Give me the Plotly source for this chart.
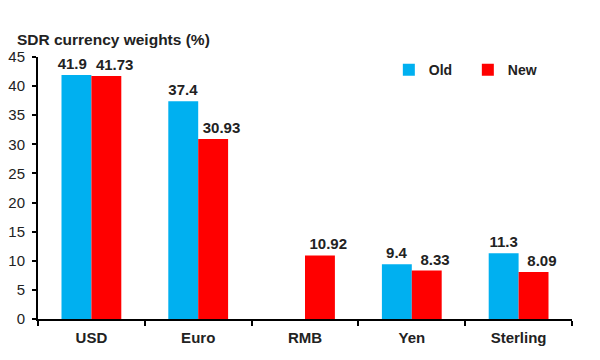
import plotly.graph_objects as go

categories = ["USD", "Euro", "RMB", "Yen", "Sterling"]
old_weights = [41.9, 37.4, None, 9.4, 11.3]
new_weights = [41.73, 30.93, 10.92, 8.33, 8.09]
old_labels = ["41.9", "37.4", "", "9.4", "11.3"]
new_labels = ["41.73", "30.93", "10.92", "8.33", "8.09"]
y_ticks = [0, 5, 10, 15, 20, 25, 30, 35, 40, 45]

font_family = "Liberation Sans, Arial, sans-serif"
txt = "#222222"
NB = "\u00a0"

# label placement like the original: new-weight labels nudged right, first old label nudged left
old_text = [f"<b>{t}</b>" + (NB * 2 if i == 0 else "") for i, t in enumerate(old_labels)]
new_text = [NB * 4 + f"<b>{t}</b>" for t in new_labels]

fig = go.Figure()
fig.add_trace(go.Bar(
    x=categories, y=old_weights, name="<b>Old</b>",
    marker=dict(color="#00B0F0", line=dict(width=0)),
    text=old_text, textposition="outside",
    textfont=dict(size=15, color=txt, family=font_family),
    constraintext="none", textangle=0, cliponaxis=False,
))
fig.add_trace(go.Bar(
    x=categories, y=new_weights, name="<b>New</b>",
    marker=dict(color="#FF0000", line=dict(width=0)),
    text=new_text, textposition="outside",
    textfont=dict(size=15, color=txt, family=font_family),
    constraintext="none", textangle=0, cliponaxis=False,
))

fig.update_layout(
    width=592, height=352,
    margin=dict(l=30, r=28, t=49, b=41),
    paper_bgcolor="white", plot_bgcolor="white",
    barmode="group", bargap=0.44, bargroupgap=0,
    font=dict(family=font_family, color=txt, size=14),
    showlegend=True,
    legend=dict(orientation="h", x=0.657, y=0.95, xanchor="left", yanchor="middle",
                font=dict(size=14, family=font_family, color=txt),
                entrywidth=34, entrywidthmode="pixels",
                bgcolor="rgba(0,0,0,0)", traceorder="normal"),
    title=dict(text="<b>SDR currency weights (%)</b>", x=0.015, xanchor="left",
               y=0.909, yanchor="middle", font=dict(size=15.5, family=font_family, color=txt)),
)
fig.update_xaxes(
    showline=True, linecolor="black", linewidth=2,
    ticks="outside", tickson="boundaries", ticklen=5, tickwidth=2, tickcolor="black",
    tickfont=dict(size=15, family=font_family, color=txt),
    tickprefix="<b>", ticksuffix="</b>", ticklabelstandoff=4,
    showgrid=False, zeroline=False, automargin=False,
)
fig.update_yaxes(
    range=[0, 45], tickvals=y_ticks,
    showline=True, linecolor="black", linewidth=2,
    ticks="outside", ticklen=4, tickwidth=2, tickcolor="black",
    tickfont=dict(size=15, family=font_family, color=txt),
    tickprefix="<b>", ticksuffix="</b>", ticklabelstandoff=4,
    showgrid=False, zeroline=False, automargin=False,
)

fig.write_html("out.html")
